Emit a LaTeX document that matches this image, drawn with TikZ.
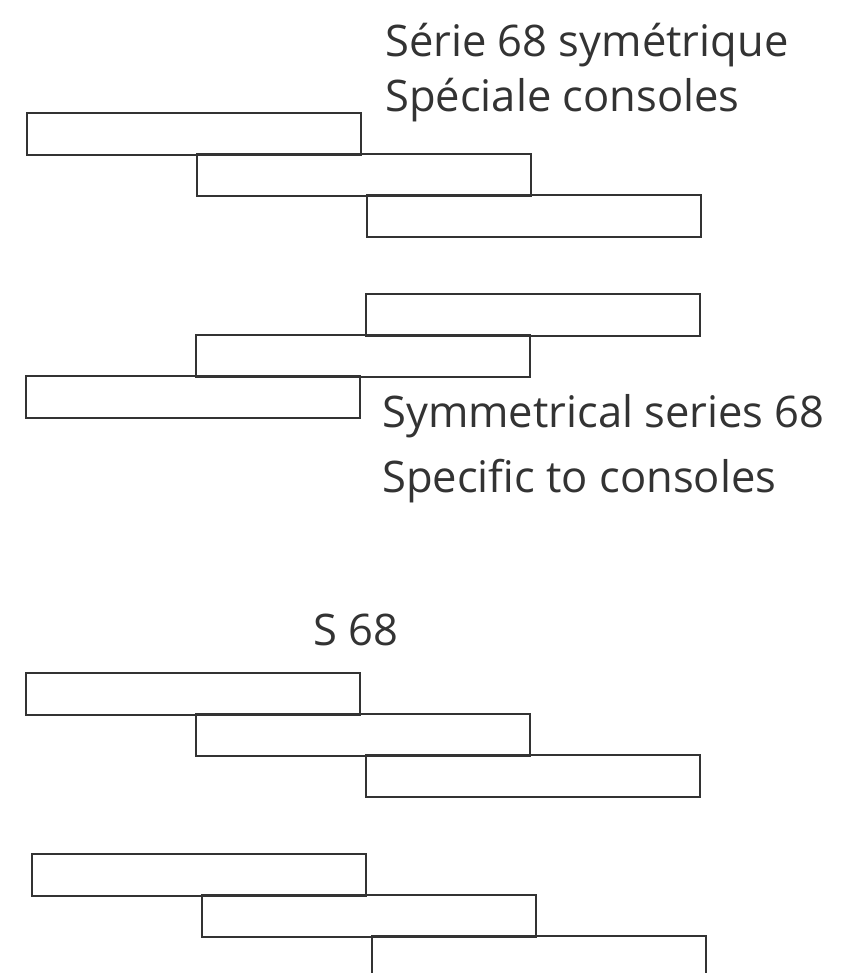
\documentclass[tikz,border=0pt]{standalone}
\usepackage{fontspec}
\setmainfont{Open Sans}
\usepackage{tikz}
\usetikzlibrary{positioning}
\usepackage{xcolor}
\definecolor{inkgray}{HTML}{333333}

\begin{document}
\begin{tikzpicture}[
  x=1pt, y=-1pt,
  plank/.style={rectangle, draw=inkgray, line width=2.2pt, minimum width=334pt, minimum height=42pt, inner sep=0pt, anchor=north west},
  caption/.style={font=\fontsize{43.5}{50}\selectfont, text=inkgray, inner sep=0pt, anchor=base west},
]
  \useasboundingbox (0,0) rectangle (859,973);
  \clip (0,0) rectangle (859,973);
  \def\stepx{170}
  \def\stepy{41}
  % Group 1: stepping down to the right
  \foreach \i in {0,...,2}
    \node[plank] (A\i) at ({26+\i*\stepx}, {112+\i*\stepy}) {};
  % Group 2: stepping up to the right
  \foreach \i in {0,...,2}
    \node[plank] (B\i) at ({25+\i*\stepx}, {375-\i*\stepy}) {};
  % Group 3
  \foreach \i in {0,...,2}
    \node[plank] (C\i) at ({25+\i*\stepx}, {672+\i*\stepy}) {};
  % Group 4 -- last plank runs off the bottom edge
  \foreach \i in {0,...,2}
    \node[plank] (D\i) at ({31+\i*\stepx}, {853+\i*\stepy}) {};
  % Captions
  \node[caption] (fr1) at (385,57)  {Série 68 symétrique};
  \node[caption] (fr2) at (385,112) {Spéciale consoles};
  \node[caption] (en1) at (382,427) {Symmetrical series 68};
  \node[caption] (en2) at (382,492) {Specific to consoles};
  \node[caption] (s68) at (313,645) {S 68};
\end{tikzpicture}
\end{document}
